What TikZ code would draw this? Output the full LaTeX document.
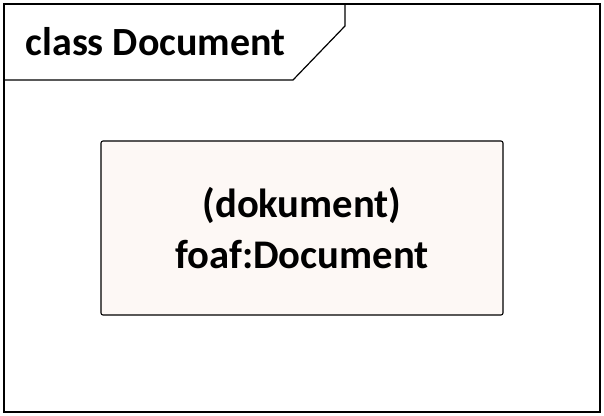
\documentclass[tikz,border=0pt]{standalone}
\usepackage{fontspec}
\setmainfont{Carlito}
\usetikzlibrary{positioning}
\definecolor{boxfill}{HTML}{FDF8F5}
\begin{document}
\begin{tikzpicture}[x=0.75pt,y=-0.75pt, frm/.style={draw,line width=0.9pt}, cls/.style={draw,line width=0.8pt,fill=boxfill,rounded corners=1.5pt,minimum width=402*0.75pt,minimum height=174*0.75pt,align=center,font=\bfseries\fontsize{30.5}{38}\selectfont}]
      \useasboundingbox (0,0) rectangle (604,416);
      \draw[frm] (4,4) rectangle (600,412);
      \draw[frm] (4,80) -- (293,80) -- (345,26) -- (345,4);
      \node[anchor=west,font=\bfseries\fontsize{30}{34}\selectfont] (title) at (21,42) {class Document};
      \node[cls] (doc) at (302,228) {(dokument)\\foaf:Document};
\end{tikzpicture}
\end{document}
